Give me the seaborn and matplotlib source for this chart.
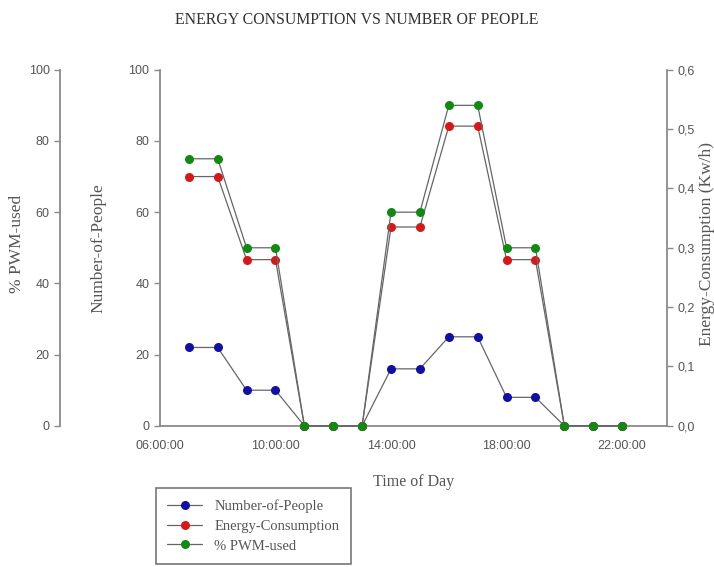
import numpy as np
import pandas as pd
import matplotlib
matplotlib.use("Agg")
import matplotlib.pyplot as plt
import seaborn as sns

# data
horas = ["07:00:00", "08:00:00", "09:00:00", "10:00:00", "11:00:00", "12:00:00",
         "13:00:00", "14:00:00", "15:00:00", "16:00:00", "17:00:00", "18:00:00",
         "19:00:00", "20:00:00", "21:00:00", "22:00:00"]
personas = [22, 22, 10, 10, 0, 0, 0, 16, 16, 25, 25, 8, 8, 0, 0, 0]
energia = [0.42, 0.42, 0.28, 0.28, 0, 0, 0, 0.335, 0.335, 0.505, 0.505, 0.28, 0.28, 0, 0, 0]
pwm = [75, 75, 50, 50, 0, 0, 0, 60, 60, 90, 90, 50, 50, 0, 0, 0]

etiquetas_x = ["06:00:00", "10:00:00", "14:00:00", "18:00:00", "22:00:00"]

df = pd.DataFrame({
    "hora": pd.to_timedelta(horas).total_seconds() / 3600,
    "personas": personas,
    "energia": energia,
    "pwm": pwm,
})

sns.set_style("white")
plt.rcParams["font.family"] = ["Liberation Sans", "DejaVu Sans"]
serif = ["Liberation Serif", "DejaVu Serif"]
gris = "#8a8a8a"
txt = "#555555"
linea = "#666666"

fig = plt.figure(figsize=(7.14, 5.67), dpi=100)
ax = fig.add_axes([0.224, 0.249, 0.710, 0.628])
ax2 = ax.twinx()
ax3 = ax.twinx()

estilo = dict(marker="o", markersize=6.5, linewidth=0.9, markeredgewidth=0, clip_on=False)

sns.lineplot(data=df, x="hora", y="personas", ax=ax, color=linea, markerfacecolor="#1010a8",
             label="Number-of-People", legend=False, zorder=3, **estilo)
sns.lineplot(data=df, x="hora", y="energia", ax=ax2, color=linea, markerfacecolor="#d81818",
             label="Energy-Consumption", legend=False, zorder=3, **estilo)
sns.lineplot(data=df, x="hora", y="pwm", ax=ax3, color=linea, markerfacecolor="#108a10",
             label="% PWM-used", legend=False, zorder=4, **estilo)

ax.set_xlim(6, 23.55)
ax.set_ylim(0, 100)
ax2.set_ylim(0, 0.6)
ax3.set_ylim(0, 100)

ax.set_xticks([6, 10, 14, 18, 22])
ax.set_xticklabels(etiquetas_x)
ax.set_xticks(np.arange(6, 24, 1), minor=True)
ax.set_yticks(np.arange(0, 101, 20))
ax2.set_yticks(np.arange(0, 0.61, 0.1))
ax2.set_yticklabels(["0,0", "0,1", "0,2", "0,3", "0,4", "0,5", "0,6"])
ax3.set_yticks(np.arange(0, 101, 20))

# spines
for a in (ax, ax2, ax3):
    for s in a.spines.values():
        s.set_visible(False)
        s.set_color(gris)
        s.set_linewidth(1.3)
ax.spines["left"].set_visible(True)
ax.spines["bottom"].set_visible(True)
ax2.spines["right"].set_visible(True)
ax3.spines["left"].set_visible(True)
ax3.spines["left"].set_position(("axes", -0.197))
ax3.yaxis.set_ticks_position("left")
ax3.yaxis.set_label_position("left")

for a in (ax, ax2, ax3):
    a.tick_params(which="both", direction="out", color=gris, labelcolor=txt, labelsize=9, width=1)
    a.tick_params(which="major", length=4)
    a.tick_params(which="minor", length=3)
ax.tick_params(axis="x", which="both", direction="inout", length=6)
ax.tick_params(axis="x", pad=7)

ax.set_xlabel("Time of Day", family=serif, fontsize=11.5, color=txt, labelpad=16)
ax.set_ylabel("Number-of-People", family=serif, fontsize=12.5, color=txt)
ax2.set_ylabel("Energy-Consumption (Kw/h)", family=serif, fontsize=12.5, color=txt)
ax3.set_ylabel("% PWM-used", family=serif, fontsize=12.5, color=txt)
ax.yaxis.set_label_coords(-0.105, 0.5)
ax2.yaxis.set_label_coords(1.063, 0.51)
ax3.yaxis.set_label_coords(-0.266, 0.51)

fig.suptitle("ENERGY CONSUMPTION VS NUMBER OF PEOPLE", family=serif, fontsize=11.4,
             color="#333333", x=0.5, y=0.978)

lineas = ax.get_lines() + ax2.get_lines() + ax3.get_lines()
leg = fig.legend(lineas, [l.get_label() for l in lineas], loc="lower left",
                 bbox_to_anchor=(0.208, -0.008), prop={"family": serif, "size": 10.5},
                 frameon=True, fancybox=False, handlelength=2.4, borderpad=0.8,
                 labelspacing=0.45)
leg.get_frame().set_edgecolor("#555555")
leg.get_frame().set_linewidth(1.2)
for t in leg.get_texts():
    t.set_color(txt)

fig.savefig("out.png", dpi=100)
